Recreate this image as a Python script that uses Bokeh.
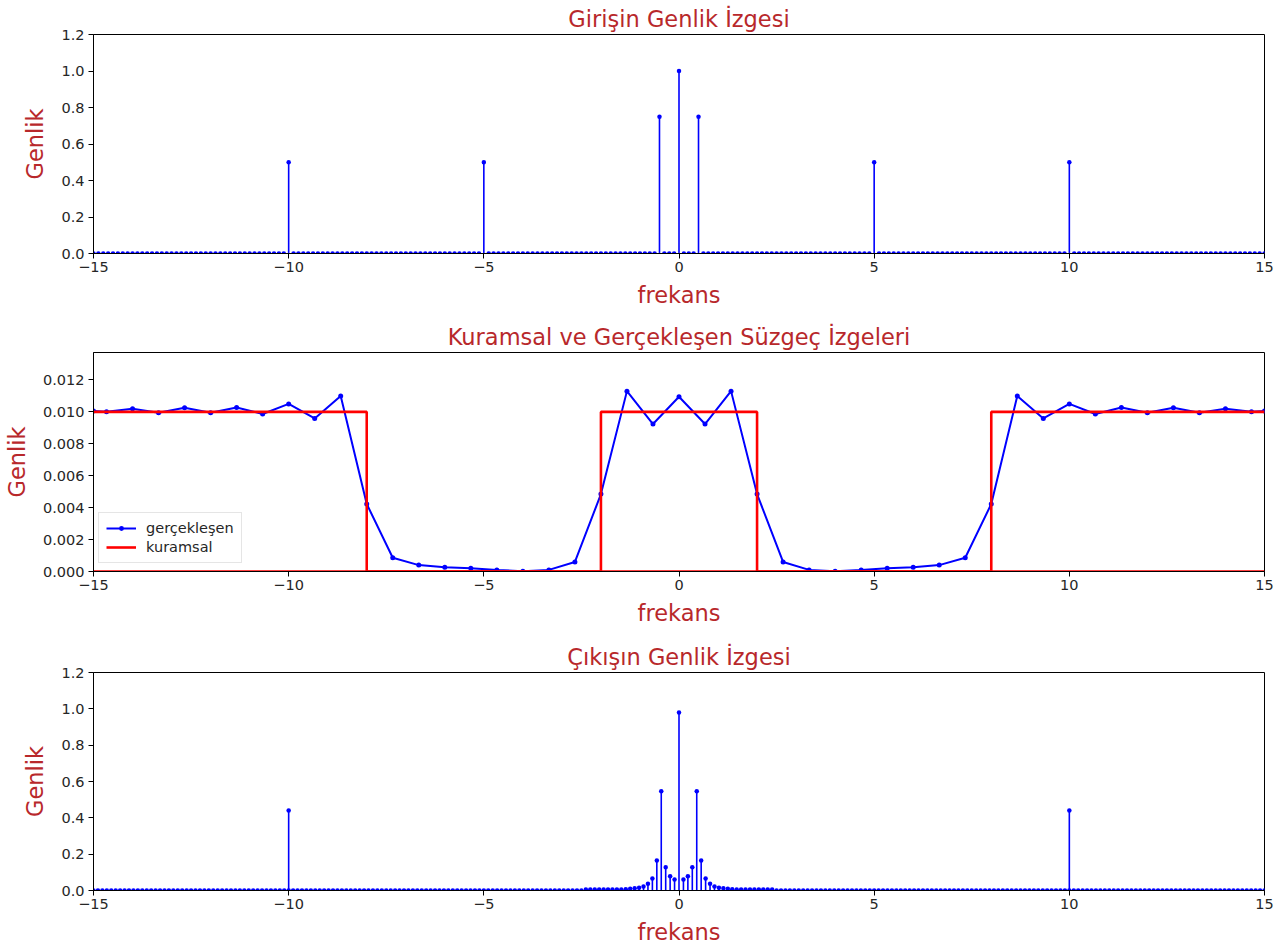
import numpy as np
from bokeh.plotting import figure
from bokeh.layouts import column
from bokeh.models import FixedTicker, Legend, LegendItem, Range1d, PrintfTickFormatter
from bokeh.embed import file_html
from bokeh.resources import INLINE

FONT = "DejaVu Sans"
TITLE_COLOR = "#b8282b"
TICK_COLOR = "#262626"
BLUE = "#0000ff"
RED = "#ff0000"

# ---------------- data ----------------
# Top: input amplitude spectrum (stems every 0.125 Hz)
in_step = 0.125
in_freq = np.arange(-120, 121) * in_step
in_peak_freq = [-10, -5, -0.5, 0, 0.5, 5, 10]
in_peak_amp = [0.5, 0.5, 0.75, 1.0, 0.75, 0.5, 0.5]

# Middle: realised filter response (45-point grid, 2/3 Hz spacing) + ends
filt_k = np.arange(-22, 23)
filt_half = [0.01095, 0.00924, 0.01130, 0.00485, 0.00060, 0.00010, 0.00002,
             0.00010, 0.00020, 0.00027, 0.00040, 0.00086, 0.00423, 0.01100,
             0.00959, 0.01050, 0.00987, 0.01028, 0.00995, 0.01026, 0.00995,
             0.01020, 0.01001]
filt_freq = [-15.0] + list(filt_k * 2.0 / 3.0) + [15.0]
filt_amp = [0.01005] + filt_half[:0:-1] + filt_half + [0.01005]

# Middle: theoretical filter
ideal_freq = [-15, -8, -8, -2, -2, 2, 2, 8, 8, 15]
ideal_amp = [0.01, 0.01, 0, 0, 0.01, 0.01, 0, 0, 0.01, 0.01]

# Bottom: output amplitude spectrum
out_step = 30.0 / 264.0
out_k = np.arange(-132, 133)
out_center_half = [0.98, 0.060, 0.079, 0.128, 0.547, 0.165, 0.066, 0.037,
                   0.022, 0.015, 0.012, 0.009, 0.007, 0.006, 0.006, 0.006,
                   0.006, 0.006, 0.006, 0.006, 0.006, 0.005]
out_peak_freq = [-10, 10]
out_peak_amp = [0.44, 0.44]

x_ticks = [-15, -10, -5, 0, 5, 10, 15]
x_tick_labels = {t: (str(t).replace("-", "\u2212")) for t in x_ticks}


def make_fig(title, height, top, bottom, y_end, y_ticks, y_fmt):
    p = figure(width=1287, height=height, output_backend="svg",
               toolbar_location=None, x_range=Range1d(-15, 15),
               y_range=Range1d(0, y_end),
               min_border_left=92, min_border_right=23,
               min_border_top=top, min_border_bottom=bottom)
    p.title.text = title
    p.title.align = "center"
    p.title.text_font = FONT
    p.title.text_font_size = "22.5px"
    p.title.text_font_style = "normal"
    p.title.text_color = TITLE_COLOR
    p.title.standoff = 6
    p.grid.visible = False
    p.outline_line_color = "black"
    p.outline_line_width = 1
    p.outline_line_alpha = 1
    p.background_fill_color = "white"
    p.border_fill_color = "white"
    for ax in (p.xaxis[0], p.yaxis[0]):
        ax.major_tick_out = 5
        ax.major_tick_in = 0
        ax.minor_tick_line_color = None
        ax.major_label_text_font = FONT
        ax.major_label_text_font_size = "14.5px"
        ax.major_label_text_color = TICK_COLOR
        ax.axis_line_color = "black"
        ax.major_tick_line_color = "black"
        ax.axis_label_text_font = FONT
        ax.axis_label_text_font_size = "22.5px"
        ax.axis_label_text_font_style = "normal"
        ax.axis_label_text_color = TITLE_COLOR
    p.xaxis.ticker = FixedTicker(ticks=x_ticks)
    p.xaxis.major_label_overrides = x_tick_labels
    p.xaxis.major_label_standoff = 3
    p.xaxis.axis_label = "frekans"
    p.xaxis.axis_label_standoff = 7
    p.yaxis.ticker = FixedTicker(ticks=y_ticks)
    p.yaxis.formatter = PrintfTickFormatter(format=y_fmt)
    p.yaxis.major_label_standoff = 4
    p.yaxis.axis_label = "Genlik"
    p.yaxis.axis_label_standoff = 10
    return p


def stems(p, freqs, amps):
    p.segment(x0=freqs, y0=[0] * len(freqs), x1=freqs, y1=amps,
              line_color=BLUE, line_width=1.6)
    p.scatter(x=freqs, y=amps, size=4.5, color=BLUE, line_width=0)


# ---------------- top ----------------
p1 = make_fig("Girişin Genlik İzgesi", 317, 34, 64, 1.2,
              [0, 0.2, 0.4, 0.6, 0.8, 1.0, 1.2], "%.1f")
in_amp = np.zeros(len(in_freq))
for f, a in zip(in_peak_freq, in_peak_amp):
    in_amp[np.argmin(np.abs(in_freq - f))] = a
stems(p1, list(in_freq), list(in_amp))

# ---------------- middle ----------------
p2 = make_fig("Kuramsal ve Gerçekleşen Süzgeç İzgeleri", 318, 35, 64, 0.01372,
              [0, 0.002, 0.004, 0.006, 0.008, 0.010, 0.012], "%.3f")
bl = p2.line(filt_freq, filt_amp, line_color=BLUE, line_width=2)
bp = p2.scatter(filt_freq, filt_amp, size=5, color=BLUE, line_width=0)
rl = p2.line(ideal_freq, ideal_amp, line_color=RED, line_width=2.6)
p2.line([-15, 15], [0, 0], line_color=RED, line_width=2.6)
legend = Legend(items=[LegendItem(label="gerçekleşen", renderers=[bl, bp]),
                       LegendItem(label="kuramsal", renderers=[rl])],
                location=(5, 8))
legend.margin = 0
legend.padding = 7
legend.spacing = 3
legend.glyph_width = 30
legend.glyph_height = 12
legend.label_standoff = 10
legend.label_text_font = FONT
legend.label_text_font_size = "14.5px"
legend.label_text_color = TICK_COLOR
legend.border_line_color = "#cccccc"
legend.background_fill_alpha = 0.8
p2.add_layout(legend)

# ---------------- bottom ----------------
p3 = make_fig("Çıkışın Genlik İzgesi", 316, 37, 61, 1.2,
              [0, 0.2, 0.4, 0.6, 0.8, 1.0, 1.2], "%.1f")
out_freq = out_k * out_step
out_amp = np.zeros(len(out_k))
for i, a in enumerate(out_center_half):
    out_amp[out_k == i] = a
    out_amp[out_k == -i] = a
stems(p3, list(out_freq), list(out_amp))
stems(p3, out_peak_freq, out_peak_amp)

layout = column(p1, p2, p3, spacing=0)
open("out.html", "w").write(file_html(layout, INLINE))
